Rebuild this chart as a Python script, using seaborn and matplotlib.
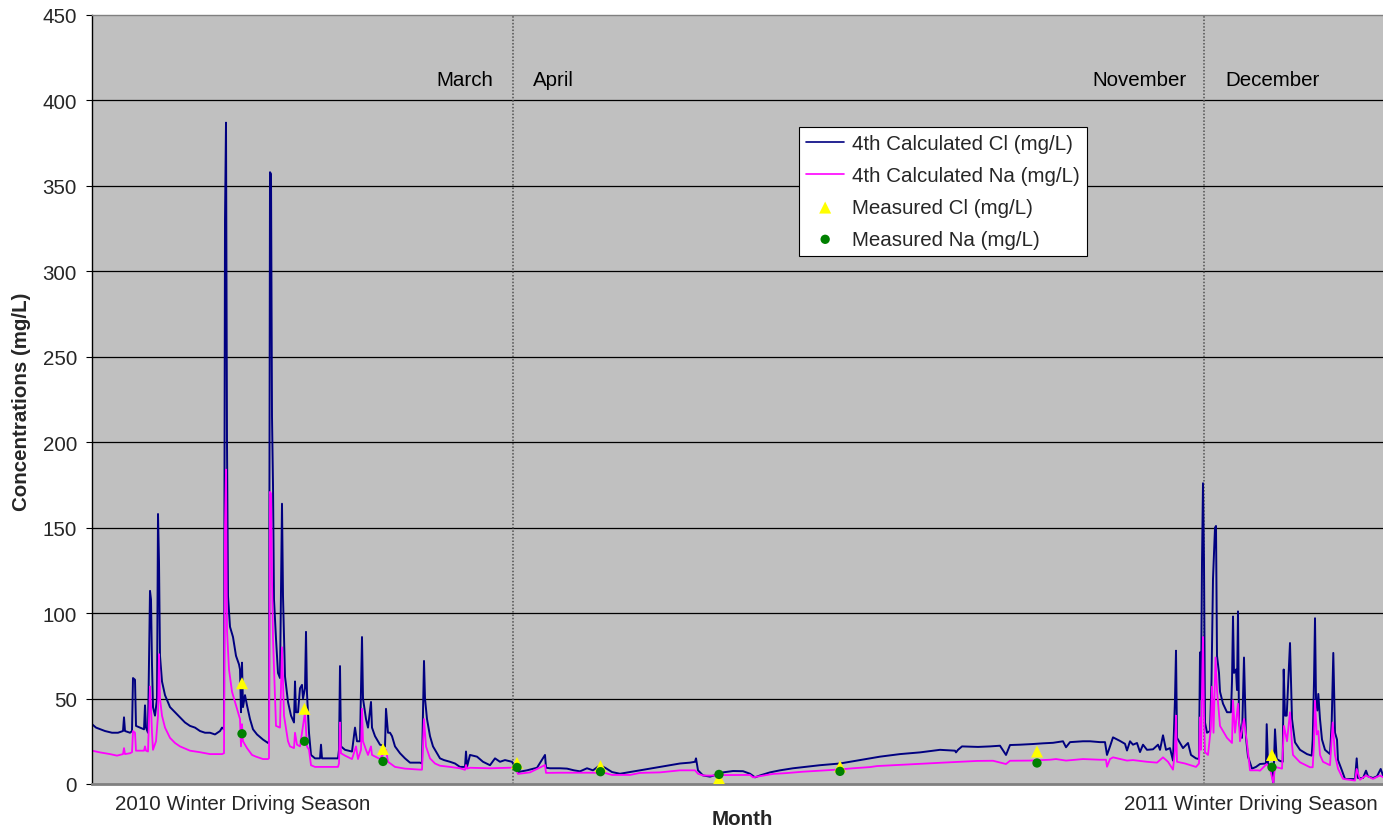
import numpy as np
import pandas as pd
import matplotlib
matplotlib.use("Agg")
import matplotlib.pyplot as plt
import seaborn as sns

# ---------------- data (sample index along the record) ----------------
cl_t = [0, 4, 13, 20, 26, 31, 32, 33, 38, 40, 41, 43, 44, 48, 52, 53, 54, 56, 58, 59, 60, 61, 63, 65, 66, 67, 68, 70,
        73, 78, 83, 88, 93, 98, 103, 108, 113, 118, 123, 128, 130, 132, 133, 134, 135, 136, 138, 141, 144, 147, 148,
        149, 150, 151, 153, 155, 158, 161, 165, 171, 176, 177, 178, 179, 180, 181, 182, 184, 186, 188, 190, 191, 193,
        196, 199, 202, 203, 204, 206, 208, 210, 211, 213, 214, 215, 217, 219, 223, 228, 229, 230, 238, 246, 247, 248,
        249, 253, 260, 263, 265, 268, 270, 271, 274, 276, 279, 280, 283, 288, 293, 294, 296, 298, 300, 303, 308, 313,
        318, 328, 330, 332, 333, 335, 338, 341, 345, 348, 352, 358, 363, 368, 373, 374, 375, 378, 385, 391, 398, 403,
        408, 413, 420, 423, 426, 435, 445, 453, 454, 458, 468, 475, 482, 488, 495, 501, 508, 514, 520, 528, 538, 548,
        558, 568, 578, 588, 598, 603, 604, 606, 611, 618, 625, 631, 641, 651, 658, 663, 668, 678, 688, 701, 715, 728,
        748, 768, 788, 808, 828, 848, 863, 864, 866, 870, 886, 898, 908, 914, 918, 928, 941, 951, 961, 971, 974, 978,
        991, 998, 1008, 1013, 1015, 1018, 1021, 1028, 1033, 1035, 1038, 1041, 1045, 1048, 1051, 1055, 1061, 1066,
        1068, 1071, 1074, 1078, 1081, 1083, 1084, 1085, 1088, 1091, 1096, 1099, 1104, 1107, 1108, 1109, 1110, 1111,
        1112, 1113, 1115, 1118, 1119.5, 1121, 1123, 1124, 1125, 1127, 1128, 1131, 1135, 1139, 1140, 1141, 1142, 1144,
        1145, 1146, 1147, 1150, 1152, 1154, 1156, 1160, 1164, 1168, 1174, 1174.7, 1176, 1179.7, 1181.3, 1183, 1184.7,
        1188, 1190.7, 1191.7, 1193, 1194.7, 1196.3, 1198, 1200, 1203, 1208, 1215, 1219.7, 1220.7, 1222, 1223, 1224,
        1225.3, 1226.3, 1228, 1230, 1233, 1238, 1239.7, 1241.3, 1243, 1245, 1246, 1250, 1253, 1263, 1264.7, 1266,
        1271, 1274, 1276, 1281, 1285, 1288.7, 1291]
cl_v = [35, 33, 31, 30, 30, 31, 39, 31, 30, 31, 62, 61, 34, 33, 32, 46, 33, 30, 113, 108, 70, 45, 40, 50, 158, 130, 75,
        60, 52, 45, 42, 39, 36, 34, 33, 31, 30, 30, 29, 31, 33, 32, 330, 387, 200, 110, 92, 86, 75, 70, 67, 42, 71, 45,
        52, 46, 38, 32, 29, 26, 24, 25, 358, 357, 215, 175, 108, 85, 65, 62, 164, 110, 63, 48, 40, 36, 60, 42, 42, 56,
        58, 50, 56, 89, 53, 30, 17, 15, 15, 23, 15, 15, 15, 20, 69, 22, 20, 19, 33, 25, 25, 86, 50, 38, 33, 48, 33,
        28, 23, 22, 44, 30, 30, 28, 22, 18, 15, 12.5, 12.5, 12, 72, 50, 38, 28, 22, 18, 15, 14, 13, 12, 10, 10, 19,
        10, 17, 16, 13, 11, 15, 13, 14, 13, 10, 7, 8, 9.5, 17, 9.5, 9.2, 9.2, 9, 8, 7.4, 9.2, 8, 11, 9.2, 7, 6, 7, 8,
        9, 10, 11, 12, 12.5, 13, 15, 8, 5, 4.3, 5.5, 6.8, 7.6, 7.5, 6, 3.9, 5, 6.8, 8, 9.2, 10.1, 11, 12, 14, 16,
        17.5, 18.5, 20, 19.5, 18.5, 20, 22, 21.7, 22, 22.4, 17, 22.8, 23, 23.4, 23.8, 24.1, 25, 21.5, 24.5, 25, 25,
        24.5, 24.5, 17, 22, 27.3, 25.2, 23.5, 19.6, 25, 23, 24, 18.7, 23, 20, 20.3, 23, 20, 28.5, 20, 21, 13.7, 50, 78,
        27, 24, 21, 24, 17, 15, 14.6, 77, 50, 130, 176, 130, 36, 30, 31, 60, 120, 150, 151, 75, 65, 54, 47, 42, 42,
        60, 98, 65, 67, 55, 101, 36, 27, 74, 27, 16, 9, 10, 11.7, 12, 35, 12, 8.8, 0, 32, 14.6, 13.5, 13, 67, 40, 40,
        60, 82.5, 38, 24.4, 20, 17.5, 16.6, 26, 60, 97, 50, 43, 52.7, 38, 26, 20, 17.5, 36, 76.7, 30, 26, 14, 7.8, 2.9,
        2.9, 15, 3.5, 3.5, 7.8, 4.5, 3.5, 4.5, 8.8, 5]

na_t = [0, 8, 18, 25, 31, 32, 33, 38, 40, 41, 43, 44, 48, 52, 53, 54, 56, 58, 59, 60, 61, 64, 66, 67, 68, 70, 73, 78,
        83, 88, 98, 108, 118, 130, 132, 133, 134, 135, 137, 140, 144, 148, 149, 150, 151, 155, 160, 164, 171, 176,
        177, 178, 179, 180, 181, 184, 188, 190, 192, 196, 198, 202, 203, 205, 208, 213, 215, 217, 219, 223, 246, 247,
        248, 249, 253, 260, 264, 266, 269, 270, 271, 274, 276, 279, 280, 288, 294, 296, 303, 313, 328, 330, 332, 334,
        338, 343, 348, 358, 368, 373, 374, 375, 378, 398, 420, 423, 426, 438, 453, 454, 468, 505, 511, 520, 538, 548,
        568, 588, 603, 606, 611, 618, 628, 651, 658, 661, 671, 681, 695, 711, 728, 745, 761, 778, 785, 801, 818, 835,
        851, 868, 885, 901, 914, 918, 938, 958, 964, 974, 991, 1008, 1014, 1015, 1018, 1021, 1035, 1041, 1055, 1065,
        1071, 1076, 1081, 1083, 1084, 1085, 1093, 1104, 1107, 1108, 1109, 1110, 1111, 1112, 1113, 1116, 1118.7, 1120,
        1121.5, 1123.5, 1125, 1128, 1135, 1140, 1141, 1143, 1146, 1148, 1152, 1155, 1158, 1166, 1168, 1174.7, 1178,
        1181.3, 1183, 1190, 1192, 1195, 1198, 1200, 1201, 1208, 1218, 1220.7, 1222, 1223, 1224.7, 1226.3, 1228,
        1231, 1238, 1240.7, 1243, 1246, 1251, 1263, 1264.7, 1268, 1274, 1281, 1288, 1291]
na_v = [19.5, 18.5, 17.5, 16.6, 17.5, 21, 17.5, 18, 18.6, 31, 30, 19.5, 19.5, 19.5, 22, 19.5, 19, 57, 45, 30, 20, 25,
        40, 76, 50, 40, 33, 27, 24, 22, 19.5, 18.6, 17.5, 17.5, 18, 150, 184, 90, 67, 54, 46, 38, 22, 35, 25, 21, 17,
        16, 14.6, 14.6, 15, 171, 170, 120, 85, 34, 33, 80, 40, 25, 22, 21, 30, 23, 22, 42, 22, 20, 11, 10, 10, 12, 36,
        18, 16.6, 14.6, 22, 14.6, 20, 44, 25, 20, 17, 22, 17, 14.6, 20, 13, 10, 9, 8.4, 8.4, 38, 22, 15, 12, 10.7, 10,
        9.2, 8.3, 11.1, 9, 9.5, 9.2, 9.6, 9.6, 5.9, 6.8, 11.1, 6.5, 6.6, 6.6, 6.8, 5.3, 5.3, 6.5, 6.8, 8, 8, 6, 5, 4.9,
        5.2, 5.3, 5.3, 3.9, 4.9, 5.9, 6.4, 7.2, 7.8, 8.4, 9.2, 9.9, 10.5, 11, 11.5, 12, 12.5, 13, 13.5, 13.6, 11.7,
        13.6, 13.7, 14.2, 14.6, 13.7, 14.6, 14.2, 14.2, 10.1, 14.6, 15.6, 13.7, 14, 13, 12.5, 15.6, 13, 8.4, 20, 40,
        13, 12, 10, 12, 39, 20, 55, 86, 40, 18.6, 17, 32, 57, 30, 74, 55, 34, 27, 24, 49, 30, 47, 25, 38, 24, 8, 8, 7.8,
        11.7, 9, 0.6, 10, 9, 34, 25, 42, 23, 17, 12.7, 9.8, 9.8, 24, 48.8, 29, 31, 17, 13, 11, 36, 17, 9, 3, 2, 8.8,
        2.5, 5, 3, 5, 4]

meas_t = [150, 212.5, 291, 425, 508.5, 627, 748, 945, 1180]
meas_cl = [59, 44, 20.5, 12.3, 10.4, 3.3, 10.3, 19, 17]
meas_na = [29.4, 25, 13.2, 9.7, 7.2, 5.6, 7.4, 12.3, 9.8]

month_bounds = [421, 1112]
month_labels = [("March", 401, "right"), ("April", 441, "left"),
                ("November", 1095, "right"), ("December", 1133, "left")]
y_ticks = [0, 50, 100, 150, 200, 250, 300, 350, 400, 450]

# ---------------- style ----------------
sns.set_theme(style="white")
plt.rcParams["font.family"] = ["Liberation Sans", "DejaVu Sans"]
FS = 14.8

fig = plt.figure(figsize=(13.83, 8.29), dpi=100)
ax = fig.add_axes([92 / 1383, 44 / 829, 1291 / 1383, 769 / 829])
ax.set_facecolor("#C0C0C0")

for y in y_ticks[1:-1]:
    ax.axhline(y, color="black", lw=0.9, zorder=0.5)
for xb in month_bounds:
    ax.axvline(xb, color="#505050", lw=1.1, ls=(0, (1, 1.2)), zorder=0.6)

cl_df = pd.DataFrame({"t": cl_t, "v": cl_v})
na_df = pd.DataFrame({"t": na_t, "v": na_v})
sns.lineplot(data=cl_df, x="t", y="v", color="#000080", lw=1.4, estimator=None,
             ax=ax, label="4th Calculated Cl (mg/L)", zorder=2)
sns.lineplot(data=na_df, x="t", y="v", color="#FF00FF", lw=1.3, estimator=None,
             ax=ax, label="4th Calculated Na (mg/L)", zorder=2.1)
sns.scatterplot(x=meas_t, y=meas_cl, marker="^", color="#FFFF00", s=75, edgecolor="none",
                ax=ax, label="Measured Cl (mg/L)", zorder=3)
sns.scatterplot(x=meas_t, y=meas_na, marker="o", color="#008000", s=45, edgecolor="none",
                ax=ax, label="Measured Na (mg/L)", zorder=3.1)

for txt, xx, ha in month_labels:
    ax.text(xx, 412.5, txt, ha=ha, va="center", fontsize=FS, color="black")

ax.set_xlim(0, 1291)
ax.set_ylim(0, 450)
ax.set_xticks([])
ax.set_yticks(y_ticks)
ax.tick_params(axis="y", length=4.3, width=0.8, pad=6.5, labelsize=FS, color="black",
               direction="out", left=True)

ax.spines["right"].set_visible(False)
ax.spines["left"].set_color("black")
ax.spines["left"].set_linewidth(1.0)
ax.spines["bottom"].set_color("#808080")
ax.spines["bottom"].set_linewidth(2.0)
ax.spines["top"].set_color("#808080")
ax.spines["top"].set_linewidth(1.0)

ax.set_ylabel("Concentrations (mg/L)", fontsize=FS, fontweight="bold")
ax.yaxis.label.set_va("center")
ax.yaxis.set_label_coords(-0.0545, 0.498)
ax.set_xlabel("Month", fontsize=FS, fontweight="bold")
ax.xaxis.label.set_va("center")
ax.xaxis.set_label_coords(0.5035, -0.0455)

ax.text(0.0178, -0.026, "2010 Winter Driving Season", transform=ax.transAxes,
        ha="left", va="center", fontsize=FS)
ax.text(0.996, -0.026, "2011 Winter Driving Season", transform=ax.transAxes,
        ha="right", va="center", fontsize=FS)

leg = ax.legend(loc="upper left", bbox_to_anchor=(0.5476, 0.854), frameon=True, fancybox=False,
                edgecolor="black", framealpha=1, facecolor="white", fontsize=FS,
                handlelength=1.85, handletextpad=0.4, labelspacing=0.62, borderpad=0.35,
                borderaxespad=0)
leg.get_frame().set_linewidth(0.8)
for h in leg.legend_handles[:2]:
    h.set_linewidth(1.2)

fig.savefig("out.png", dpi=100)
